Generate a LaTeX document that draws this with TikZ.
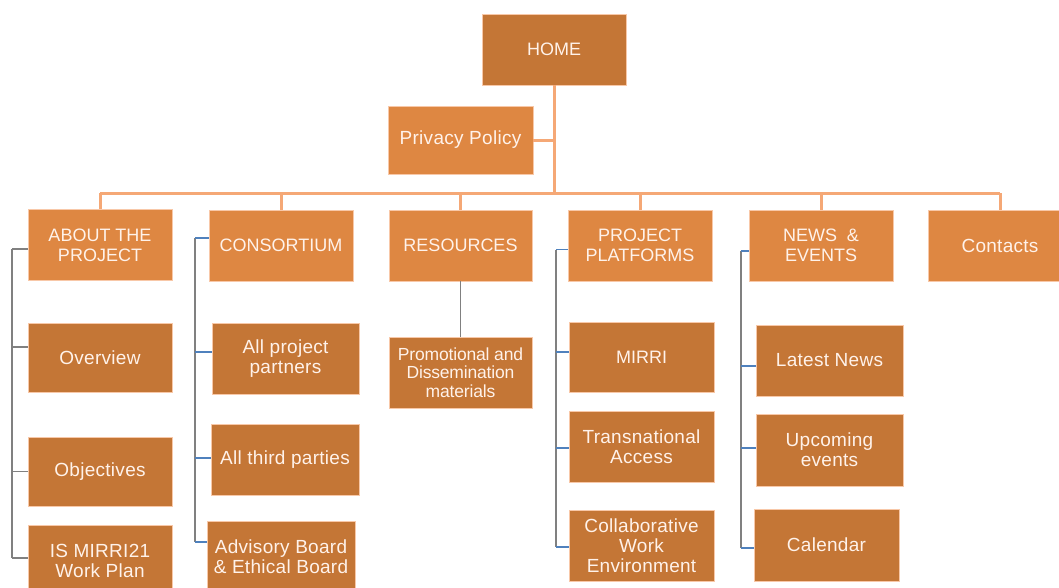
\documentclass[tikz,border=0pt]{standalone}
\usepackage{fontspec}
\setmainfont[LetterSpace=1.5]{Liberation Sans}
\newfontfamily\capsfont{Liberation Sans}
\newfontfamily\tightfont[LetterSpace=-1]{Liberation Sans}
\begin{document}
\definecolor{lightbox}{RGB}{222,135,66}
\definecolor{darkbox}{RGB}{196,118,54}
\definecolor{boxedge}{RGB}{248,200,168}
\definecolor{boxtext}{RGB}{255,242,234}
\definecolor{trunkline}{RGB}{245,168,118}
\definecolor{bracketgrey}{RGB}{128,128,128}
\definecolor{tickblue}{RGB}{79,129,189}
\begin{tikzpicture}[x=1pt,y=-1pt,
  box/.style={draw=boxedge,line width=0.8pt,inner sep=0pt,align=center,
    text=boxtext,font=\fontsize{19}{20}\selectfont,
    minimum width=144pt,minimum height=71pt},
  caps/.style={font=\capsfont\fontsize{18}{20}\selectfont},
  topbox/.style={box,fill=lightbox},
  subbox/.style={box,fill=darkbox},
  trunk/.style={draw=trunkline,line width=3pt},
  bracket/.style={draw=bracketgrey,line width=1.8pt},
  tick/.style={draw=tickblue,line width=1.4pt}]
\useasboundingbox (0,0) rectangle (1059,587);
\clip (0,0) rectangle (1059,587);

% top of the tree
\node[subbox,caps] (home) at (554,49.5) {HOME};
\node[topbox,minimum width=145pt,minimum height=68pt] (privacy) at (460.5,140) {Privacy Policy};

% first level
\node[topbox,caps] (about) at (100,245) {ABOUT THE\\PROJECT};
\node[topbox,caps] (consortium) at (281,245.5) {CONSORTIUM};
\node[topbox,caps,minimum width=143pt] (resources) at (460.5,245.5) {RESOURCES};
\node[topbox,caps] (platforms) at (640,245.5) {PROJECT\\PLATFORMS};
\node[topbox,caps] (news) at (821,245.5) {NEWS \ \&\\EVENTS};
\node[topbox] (contacts) at (1000,245.5) {Contacts};

% second level: about the project
\node[subbox,minimum height=69pt] (overview) at (100,357.5) {Overview};
\node[subbox,minimum height=69pt] (objectives) at (100,471.5) {Objectives};
\node[subbox] (workplan) at (100,560.5) {IS MIRRI21\\Work Plan};

% second level: consortium
\node[subbox,minimum width=147pt] (partners) at (285.5,358.5) {All project\\partners};
\node[subbox,minimum width=148pt] (thirdparties) at (285,459.5) {All third parties};
\node[subbox,minimum width=148pt] (advisory) at (281,556.5) {Advisory Board\\\& Ethical Board};

% second level: resources
\node[subbox,minimum width=143pt,font=\tightfont\fontsize{17.5}{18.5}\selectfont] (promo) at (460.5,372.5) {Promotional and\\Dissemination\\materials};

% second level: project platforms
\node[subbox,caps,minimum width=145pt,minimum height=70pt] (mirri) at (641.5,357) {MIRRI};
\node[subbox,minimum width=145pt] (transnational) at (641.5,446.5) {Transnational\\Access};
\node[subbox,minimum width=145pt] (collab) at (641.5,545.5) {Collaborative\\Work\\Environment};

% second level: news and events
\node[subbox,minimum width=147pt] (latest) at (829.5,360.5) {Latest News};
\node[subbox,minimum width=147pt,minimum height=72pt] (upcoming) at (829.5,450) {Upcoming\\events};
\node[subbox,minimum width=145pt,minimum height=72pt] (calendar) at (826.5,545) {Calendar};

% main distribution bar
\coordinate (bar) at (0,193);
\draw[trunk] (home.south) -- (home.south |- bar);
\draw[trunk] (privacy.east) -- (privacy.east -| home.south);
\draw[trunk] (about.north |- bar) -- (contacts.north |- bar);
\foreach \n in {about,consortium,resources,platforms,news,contacts}
  \draw[trunk] (\n.north |- bar) -- (\n.north);

% resources to its single child
\draw[draw=bracketgrey,line width=1.4pt] (resources.south) -- (promo.north);

% bracket of about the project
\coordinate (xa) at (12,0);
\coordinate (a1) at ([yshift=-4pt]about.west);
\coordinate (a2) at ([yshift=10.5pt]overview.west);
\coordinate (a3) at (objectives.west);
\coordinate (a4) at ([yshift=2.5pt]workplan.west);
\draw[bracket] (a1 -| xa) -- (a4 -| xa);
\foreach \c in {a1,a2,a3,a4} \draw[bracket] (\c -| xa) -- (\c);

% bracket of consortium
\coordinate (xc) at (195,0);
\coordinate (c1) at ([yshift=7.5pt]consortium.west);
\coordinate (c2) at ([yshift=6.5pt]partners.west);
\coordinate (c3) at ([yshift=1.5pt]thirdparties.west);
\coordinate (c4) at ([yshift=14.5pt]advisory.west);
\draw[bracket] (c1 -| xc) -- (c4 -| xc);
\foreach \c in {c1,c2,c3,c4} \draw[tick] (\c -| xc) -- (\c);

% bracket of project platforms
\coordinate (xp) at (556,0);
\coordinate (p1) at ([yshift=-4pt]platforms.west);
\coordinate (p2) at ([yshift=5pt]mirri.west);
\coordinate (p3) at ([yshift=-1.5pt]transnational.west);
\coordinate (p4) at ([yshift=-1.5pt]collab.west);
\draw[bracket] (p1 -| xp) -- (p4 -| xp);
\foreach \c in {p1,p2,p3,p4} \draw[tick] (\c -| xp) -- (\c);

% bracket of news and events
\coordinate (xn) at (741,0);
\coordinate (n1) at ([yshift=-5.5pt]news.west);
\coordinate (n2) at ([yshift=-5.5pt]latest.west);
\coordinate (n3) at ([yshift=2pt]upcoming.west);
\coordinate (n4) at ([yshift=-3pt]calendar.west);
\draw[bracket] (n1 -| xn) -- (n4 -| xn);
\foreach \c in {n1,n2,n3,n4} \draw[tick] (\c -| xn) -- (\c);
\end{tikzpicture}
\end{document}
